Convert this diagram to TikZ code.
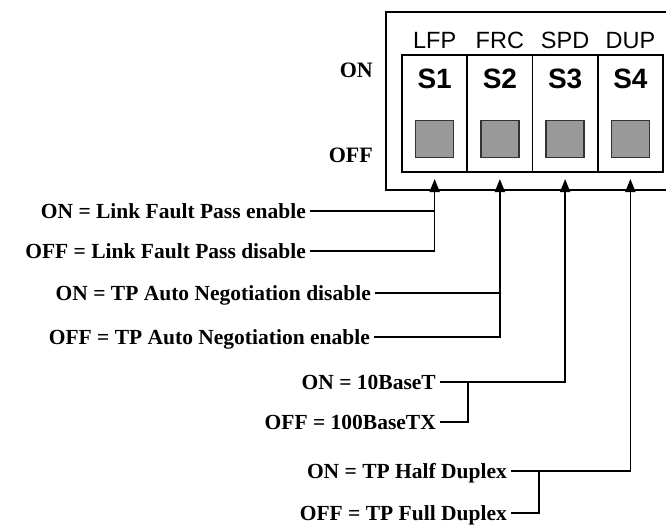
\documentclass[tikz,border=0pt]{standalone}
\usepackage{fontspec}
\setmainfont{Liberation Serif}
\setsansfont{Liberation Sans}
\usetikzlibrary{arrows.meta,positioning,calc}
\definecolor{capgray}{HTML}{999999}
\definecolor{capedge}{HTML}{333333}
\tikzset{
  swframe/.style={draw=black,line width=1.8pt},
  swcell/.style={draw=black,line width=1.8pt,minimum width=65.25pt,minimum height=117pt,inner sep=0pt,outer sep=0pt},
  swcap/.style={draw=capedge,line width=1.5pt,fill=capgray,minimum width=38pt,minimum height=37pt,inner sep=0pt},
  swname/.style={font=\sffamily\fontsize{23.5}{26}\selectfont,inner sep=0pt},
  swnum/.style={font=\sffamily\bfseries\fontsize{28}{30}\selectfont,inner sep=0pt},
  sidelbl/.style={font=\bfseries\fontsize{22}{24}\selectfont,anchor=east,inner sep=0pt},
  desc/.style={font=\bfseries\fontsize{21.5}{24}\selectfont,anchor=east,inner sep=4pt,text height=14pt,text depth=0pt},
  wire/.style={draw=black,line width=1.6pt},
  wirearrow/.style={wire,-{Triangle[length=13pt,width=10pt]}}
}
\begin{document}
\begin{tikzpicture}[x=1pt,y=-1pt]
\useasboundingbox (0,0) rectangle (666,525);
% housing and the four switches
\draw[swframe] (668,12) -| (386,190) -- (668,190);
\foreach \i/\t in {1/LFP,2/FRC,3/SPD,4/DUP}{
  \node[swcell] (s\i) at ({402+65.25*(\i-0.5)},113.5) {};
  \node[swname,above=6pt of s\i.north] (n\i) {\t};
  \node[swnum] (l\i) at ([yshift=-24pt]s\i.north) {S\i};
  \node[swcap,above=14pt of s\i.south] (k\i) {};
  \coordinate (t\i) at ([yshift=-7pt]s\i.south);
}
\node[sidelbl] (on) at (373,70) {ON};
\node[sidelbl] (off) at (373,155) {OFF};
% settings
\node[desc] (lfpon) at (310,211) {ON = Link Fault Pass enable};
\node[desc] (lfpoff) at (310,251) {OFF = Link Fault Pass disable};
\node[desc] (frcon) at (375,293) {ON = TP Auto Negotiation disable};
\node[desc] (frcoff) at (374,337) {OFF = TP Auto Negotiation enable};
\node[desc] (spdon) at (440,382) {ON = 10BaseT};
\node[desc] (spdoff) at (440,422) {OFF = 100BaseTX};
\node[desc] (dupon) at (511,471) {ON = TP Half Duplex};
\node[desc] (dupoff) at (511,513) {OFF = TP Full Duplex};
\coordinate (j3) at ([xshift=28pt]spdon.east);
\coordinate (j4) at ([xshift=28pt]dupon.east);
% leaders
\draw[wirearrow] (lfpon.east) -| (t1);
\draw[wire] (lfpoff.east) -| (lfpon.east -| t1);
\draw[wirearrow] (frcon.east) -| (t2);
\draw[wire] (frcoff.east) -| (frcon.east -| t2);
\draw[wirearrow] (spdon.east) -| (t3);
\draw[wire] (spdoff.east) -| (j3);
\draw[wirearrow] (dupon.east) -| (t4);
\draw[wire] (dupoff.east) -| (j4);
\end{tikzpicture}
\end{document}
